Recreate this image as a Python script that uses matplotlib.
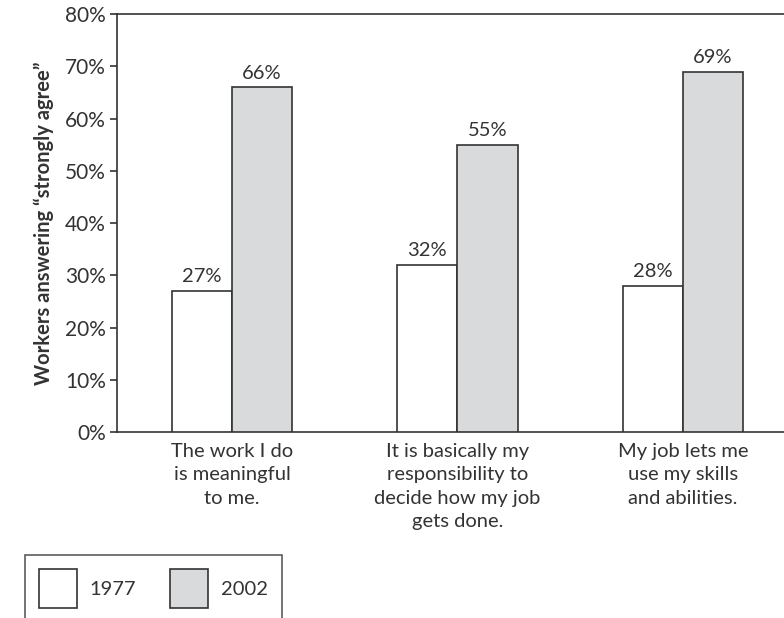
import matplotlib
matplotlib.use("Agg")
import matplotlib.pyplot as plt
import numpy as np

plt.rcParams["font.family"] = ["Lato", "DejaVu Sans"]

# Data
categories = [
    "The work I do\nis meaningful\nto me.",
    "It is basically my\nresponsibility to\ndecide how my job\ngets done.",
    "My job lets me\nuse my skills\nand abilities.",
]
years = ["1977", "2002"]
values_1977 = [27, 32, 28]
values_2002 = [66, 55, 69]
y_ticks = [0, 10, 20, 30, 40, 50, 60, 70, 80]

_EDGE = "#333333"
_GRAY = "#d9dadc"
_TEXT = "#333333"
_FS = 14.5

fig = plt.figure(figsize=(7.84, 6.18), dpi=100)
ax = fig.add_axes([0.149, 0.301, 0.851, 0.676])

x = np.arange(len(categories))
w = 0.267

b1 = ax.bar(x - w / 2, values_1977, w, color="white", edgecolor=_EDGE,
            linewidth=1.2, label=years[0], zorder=3)
b2 = ax.bar(x + w / 2, values_2002, w, color=_GRAY, edgecolor=_EDGE,
            linewidth=1.2, label=years[1], zorder=3)

# value labels above each bar
for bars in (b1, b2):
    for rect in bars:
        h = rect.get_height()
        ax.annotate(f"{h:.0f}%", xy=(rect.get_x() + rect.get_width() / 2, h),
                    xytext=(0, 4), textcoords="offset points",
                    ha="center", va="bottom", fontsize=_FS, color=_TEXT)

ax.set_xlim(-0.511, 2.449)
ax.set_ylim(0, 80)
ax.set_yticks(y_ticks)
ax.set_yticklabels([f"{t}%" for t in y_ticks], fontsize=_FS + 0.5, color=_TEXT)
ax.set_xticks(x)
ax.set_xticklabels(categories, fontsize=_FS, color=_TEXT, linespacing=1.45)
ax.tick_params(axis="x", length=0, pad=8)
ax.tick_params(axis="y", length=5, width=1.2, color=_EDGE, pad=3)

ax.spines["right"].set_visible(False)
for s in ("left", "top", "bottom"):
    ax.spines[s].set_color(_EDGE)
    ax.spines[s].set_linewidth(1.2)

ax.set_ylabel("Workers answering \u201cstrongly agree\u201d", fontsize=_FS,
              fontweight="bold", color=_TEXT, labelpad=8)

leg = fig.legend(handles=[b1, b2], labels=years, loc="upper left",
                 bbox_to_anchor=(25 / 784, 1 - 555 / 618), ncol=2,
                 frameon=True, fancybox=False, edgecolor=_EDGE,
                 fontsize=_FS, handlelength=1.9, handleheight=2.6,
                 borderpad=0.7, borderaxespad=0, columnspacing=1.7,
                 handletextpad=0.6)
leg.get_frame().set_linewidth(1.2)
for t in leg.get_texts():
    t.set_color(_TEXT)

fig.savefig("out.png", dpi=100)
